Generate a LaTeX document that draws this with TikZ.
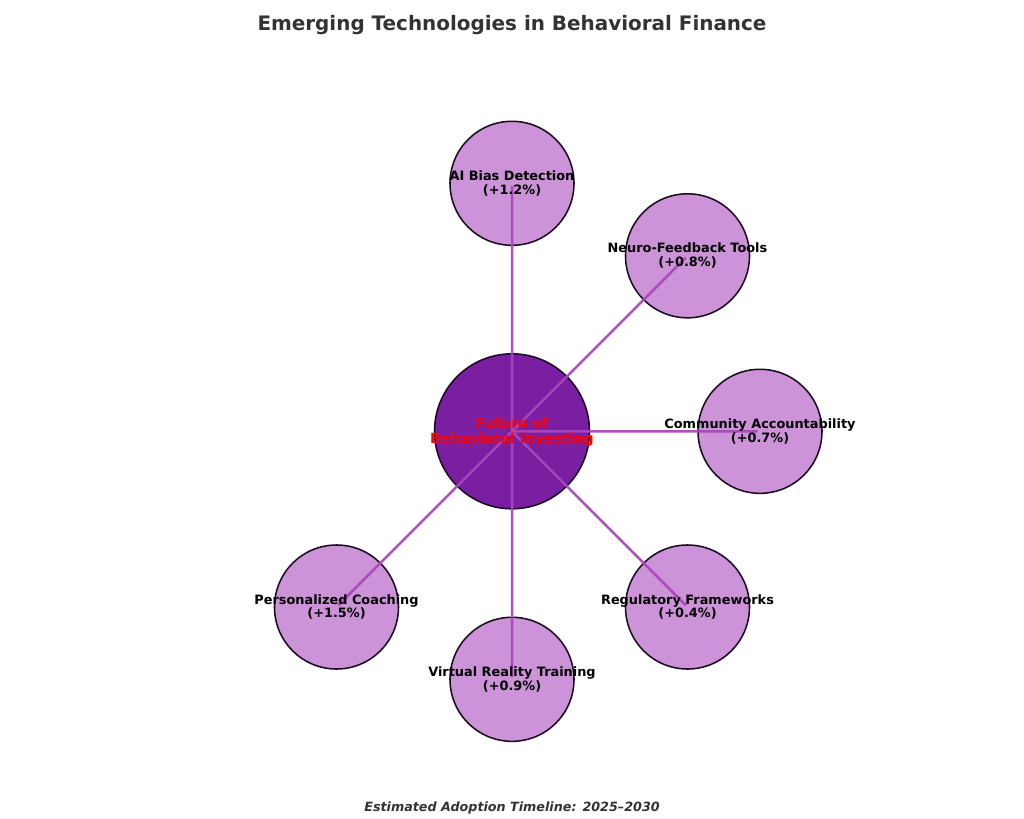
\documentclass[tikz,border=0pt]{standalone}
\usepackage{fontspec}
\setmainfont{DejaVu Sans}
\usetikzlibrary{calc}
\definecolor{hubfill}{HTML}{7B1FA2}
\definecolor{leaffill}{HTML}{CC93D8}
\definecolor{spokecol}{HTML}{AB47BC}
\definecolor{titlecol}{HTML}{333333}
\definecolor{rimcol}{HTML}{1A0A20}
\tikzset{
  x=0.72pt,y=-0.72pt,
  hubcirc/.style={circle,draw=rimcol,line width=1.1pt,fill=hubfill,minimum size=111.6pt,inner sep=0pt},
  leafcirc/.style={circle,draw=rimcol,line width=1.1pt,fill=leaffill,minimum size=89.3pt,inner sep=0pt},
  spoke/.style={draw=spokecol,line width=1.8pt,opacity=0.95},
  leaftext/.style={font=\fontsize{9.27}{10}\selectfont\bfseries,text=black,align=center,inner sep=0pt},
  hubtext/.style={font=\fontsize{10.13}{11}\selectfont\bfseries,text=red,align=center,inner sep=0pt},
}
\begin{document}
\begin{tikzpicture}
  \useasboundingbox (0,0) rectangle (1024,819);
  \node[font=\fontsize{14.35}{15}\selectfont\bfseries,text=titlecol] (title) at (512,25.5) {Emerging Technologies in Behavioral Finance};
  \node[font=\fontsize{9.16}{10}\selectfont\bfseries\itshape,text=titlecol] (note) at (512,808) {Estimated Adoption Timeline: 2025--2030};

  \node[hubcirc] (hub) at (512,431.3) {};
  \node[leafcirc] (ai) at (512,183.3) {};
  \node[leafcirc] (neuro) at (687.5,255.8) {};
  \node[leafcirc] (community) at (760,431.3) {};
  \node[leafcirc] (regulatory) at (687.5,607) {};
  \node[leafcirc] (virtual) at (512,679.3) {};
  \node[leafcirc] (coaching) at (336.5,607) {};

  \foreach \P in {ai,neuro,community,regulatory,virtual,coaching}
    \draw[spoke] (hub.center) -- ($(hub.center)!0.99!(\P.center)$);

  \node[hubtext] (hublabel) at ([yshift=-0.5pt]hub.center) {Future of\\Behavioral Investing};
  \node[leaftext] (ailabel) at (ai.center) {AI Bias Detection\\(+1.2\%)};
  \node[leaftext] (neurolabel) at (neuro.center) {Neuro-Feedback Tools\\(+0.8\%)};
  \node[leaftext] (communitylabel) at (community.center) {Community Accountability\\(+0.7\%)};
  \node[leaftext] (regulatorylabel) at (regulatory.center) {Regulatory Frameworks\\(+0.4\%)};
  \node[leaftext] (virtuallabel) at (virtual.center) {Virtual Reality Training\\(+0.9\%)};
  \node[leaftext] (coachinglabel) at (coaching.center) {Personalized Coaching\\(+1.5\%)};
\end{tikzpicture}
\end{document}
